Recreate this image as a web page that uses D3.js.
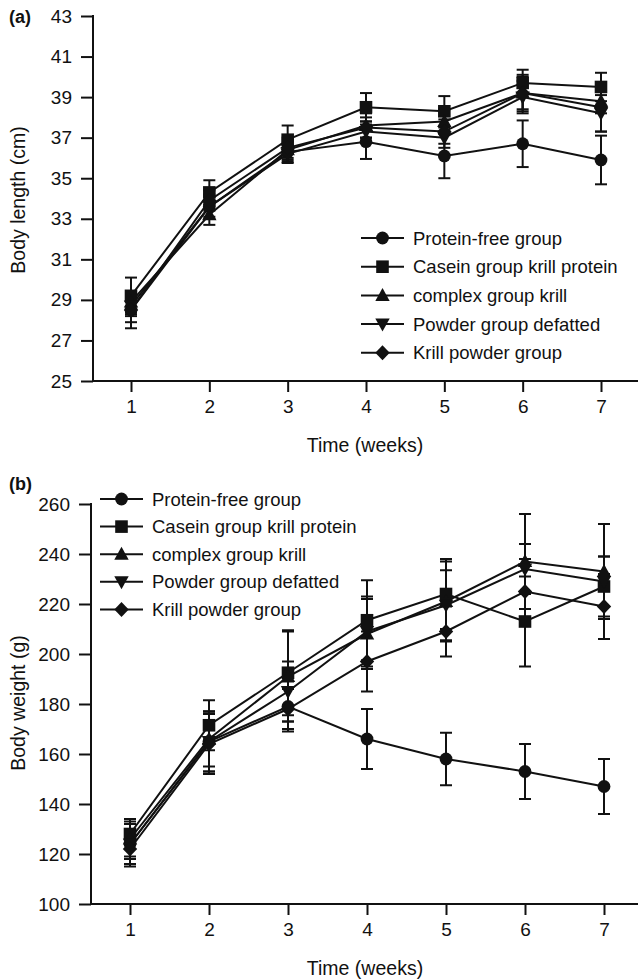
<!DOCTYPE html>
<html><head><meta charset="utf-8">
<script src="https://cdn.jsdelivr.net/npm/d3@7"></script>
<style>
html,body{margin:0;padding:0;background:#fff;}
svg text{font-family:"Liberation Sans",Arial,sans-serif;fill:#111;}
</style></head>
<body><svg id="c" width="638" height="980"></svg>
<script>
const weeks = [1,2,3,4,5,6,7];
const seriesNames = ["Protein-free group","Casein group krill protein","complex group krill","Powder group defatted","Krill powder group"];
const seriesShapes = ["circle","square","triangle","down","diamond"];

// Panel (a): body length (cm)
const lengthProteinFree = [28.5,33.6,36.3,36.8,36.1,36.7,35.9];
const lengthCasein      = [29.2,34.3,36.9,38.5,38.3,39.7,39.5];
const lengthComplex     = [28.9,33.2,36.4,37.6,37.8,39.2,38.8];
const lengthPowder      = [28.7,33.6,36.2,37.3,37.0,39.0,38.2];
const lengthKrill       = [28.5,33.9,36.5,37.5,37.3,39.2,38.5];
const lengthErrProteinFree = [0.9,0.6,0.5,0.85,1.1,1.15,1.2];
const lengthErrCasein      = [0.9,0.6,0.7,0.7,0.75,0.65,0.7];
const lengthErrComplex     = [0.5,0.5,0.5,0.6,0.6,0.8,0.6];
const lengthErrPowder      = [0.5,0.5,0.45,0.5,0.5,0.8,0.9];
const lengthErrKrill       = [0.6,0.5,0.5,0.5,0.6,0.9,1.2];
const lengthTicks = [25,27,29,31,33,35,37,39,41,43];

// Panel (b): body weight (g)
const weightProteinFree = [124,165,179,166,158,153,147];
const weightCasein      = [128,171.5,192.5,213.5,224,213,227];
const weightComplex     = [126,166,191,208,221,237,233];
const weightPowder      = [124,165,185,209,219.5,234,229];
const weightKrill       = [122,164,178,197,209,225,219];
const weightErrProteinFree = [8,12,10,12,10.5,11,11];
const weightErrCasein      = [6,10,17,16,14,18,12];
const weightErrComplex     = [7,11,18,14,16,19,19];
const weightErrPowder      = [6,12,12,14,14,10,10];
const weightErrKrill       = [7,12,8,12,10,13,13];
const weightTicks = [100,120,140,160,180,200,220,240,260];

const svg = d3.select("#c");

function markerPath(shape){
  const p = d3.path();
  if(shape==="circle"){ p.arc(0,0,6.4,0,2*Math.PI); }
  else if(shape==="square"){ p.rect(-6.3,-6.3,12.6,12.6); }
  else if(shape==="triangle"){ p.moveTo(0,-7.5); p.lineTo(7.2,5.5); p.lineTo(-7.2,5.5); p.closePath(); }
  else if(shape==="down"){ p.moveTo(0,7.5); p.lineTo(7.2,-5.5); p.lineTo(-7.2,-5.5); p.closePath(); }
  else { p.moveTo(0,-7.5); p.lineTo(7.2,0); p.lineTo(0,7.5); p.lineTo(-7.2,0); p.closePath(); }
  return p.toString();
}

function panel(cfg){
  const g = svg.append("g");
  const xs = d3.scaleLinear().domain([1,7]).range([cfg.xa, cfg.xb]);
  const y = d3.scaleLinear().domain(cfg.ydom).range([cfg.yBottom, cfg.yTop]);

  const yAxis = d3.axisLeft(y).tickValues(cfg.yticks).tickSize(12).tickPadding(9).tickFormat(d3.format("d"));
  const ya = g.append("g").attr("transform",`translate(${cfg.x0},0)`).call(yAxis);
  const xAxis = d3.axisBottom(xs).tickValues(weeks).tickSize(11).tickPadding(8).tickFormat(d3.format("d"));
  const xa = g.append("g").attr("transform",`translate(0,${cfg.yBottom})`).call(xAxis);
  [ya,xa].forEach(a=>{
    a.select(".domain").remove();
    a.selectAll(".tick line").attr("stroke","#111").attr("stroke-width",2);
    a.selectAll(".tick text").attr("font-size",19).attr("fill","#111").style("font-family","'Liberation Sans',Arial,sans-serif");
  });
  g.append("line").attr("x1",cfg.x0).attr("x2",cfg.x0).attr("y1",cfg.yTop-1).attr("y2",cfg.yBottom+1).attr("stroke","#111").attr("stroke-width",2);
  g.append("line").attr("x1",cfg.x0-1).attr("x2",638).attr("y1",cfg.yBottom).attr("y2",cfg.yBottom).attr("stroke","#111").attr("stroke-width",2);

  g.append("text").attr("x",cfg.xtitleX).attr("y",cfg.xtitleY).attr("text-anchor","middle").attr("font-size",19.5).text("Time (weeks)");
  g.append("text").attr("transform",`translate(${cfg.ytitleX},${cfg.ytitleY}) rotate(-90)`).attr("text-anchor","middle").attr("font-size",19.5).text(cfg.ytitle);
  g.append("text").attr("x",cfg.labX).attr("y",cfg.labY).attr("font-size",18).attr("font-weight","bold").text(cfg.label);

  const line = d3.line().x((d,i)=>xs(weeks[i])).y(d=>y(d));
  cfg.series.forEach(s=>{
    g.append("path").attr("d",line(s.v)).attr("fill","none").attr("stroke","#111").attr("stroke-width",2);
  });
  cfg.series.forEach(s=>{
    s.v.forEach((v,i)=>{
      const cx = xs(weeks[i]), e = s.e[i];
      g.append("line").attr("x1",cx).attr("x2",cx).attr("y1",y(v-e)).attr("y2",y(v+e)).attr("stroke","#111").attr("stroke-width",2);
      [v-e,v+e].forEach(t=>g.append("line").attr("x1",cx-6).attr("x2",cx+6).attr("y1",y(t)).attr("y2",y(t)).attr("stroke","#111").attr("stroke-width",2));
    });
  });
  cfg.series.forEach(s=>{
    s.v.forEach((v,i)=>{
      g.append("path").attr("d",markerPath(s.shape)).attr("transform",`translate(${xs(weeks[i])},${y(v)})`).attr("fill","#111");
    });
  });

  seriesNames.forEach((n,i)=>{
    const ly = cfg.legY + i*cfg.legDy;
    g.append("line").attr("x1",cfg.legX).attr("x2",cfg.legX+43).attr("y1",ly).attr("y2",ly).attr("stroke","#111").attr("stroke-width",2);
    g.append("path").attr("d",markerPath(seriesShapes[i])).attr("transform",`translate(${cfg.legX+21.5},${ly})`).attr("fill","#111");
    g.append("text").attr("x",cfg.legX+52).attr("y",ly).attr("dy","0.36em").attr("font-size",18.5).text(n);
  });
}

panel({
  x0:93, xa:131, xb:601, yTop:16, yBottom:381, ydom:[25,43], yticks:lengthTicks,
  xtitleX:365, xtitleY:452, ytitle:"Body length (cm)", ytitleX:25, ytitleY:200,
  label:"(a)", labX:9, labY:23,
  legX:361, legY:238, legDy:28.7,
  series:[
    {v:lengthProteinFree,e:lengthErrProteinFree,shape:"circle"},
    {v:lengthCasein,e:lengthErrCasein,shape:"square"},
    {v:lengthComplex,e:lengthErrComplex,shape:"triangle"},
    {v:lengthPowder,e:lengthErrPowder,shape:"down"},
    {v:lengthKrill,e:lengthErrKrill,shape:"diamond"}
  ]
});
panel({
  x0:91, xa:130, xb:604, yTop:504, yBottom:904, ydom:[100,260], yticks:weightTicks,
  xtitleX:365, xtitleY:975, ytitle:"Body weight (g)", ytitleX:25, ytitleY:703,
  label:"(b)", labX:9, labY:490,
  legX:100, legY:499, legDy:27.6,
  series:[
    {v:weightProteinFree,e:weightErrProteinFree,shape:"circle"},
    {v:weightCasein,e:weightErrCasein,shape:"square"},
    {v:weightComplex,e:weightErrComplex,shape:"triangle"},
    {v:weightPowder,e:weightErrPowder,shape:"down"},
    {v:weightKrill,e:weightErrKrill,shape:"diamond"}
  ]
});
</script></body></html>
